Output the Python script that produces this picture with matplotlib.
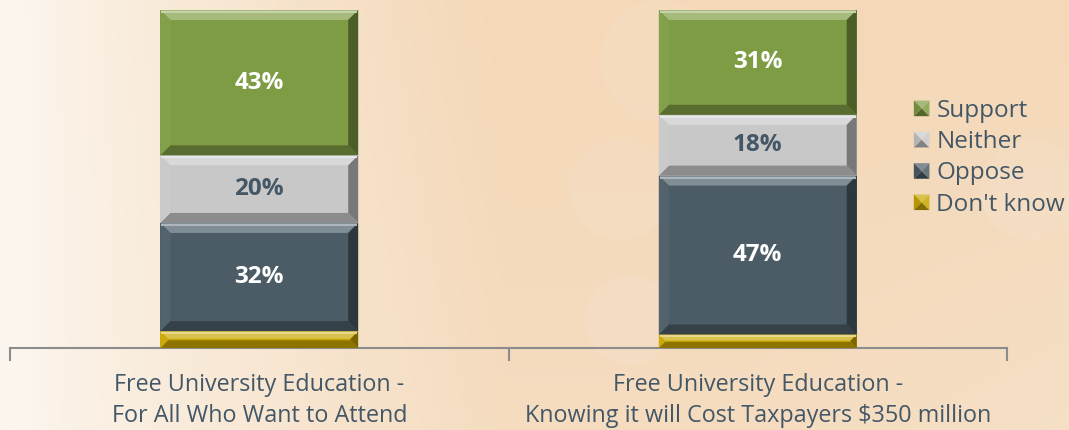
import numpy as np
import matplotlib
matplotlib.use("Agg")
import matplotlib.pyplot as plt
from matplotlib.patches import Polygon, Rectangle, Ellipse
from matplotlib.colors import to_rgb
from matplotlib.legend_handler import HandlerBase

# ---- data ----
categories = ["Free University Education -\nFor All Who Want to Attend",
              "Free University Education -\nKnowing it will Cost Taxpayers $350 million"]
series_names = ["Don't know", "Oppose", "Neither", "Support"]
dont_know = [5, 4]
oppose = [32, 47]
neither = [20, 18]
support = [43, 31]
series_values = [dont_know, oppose, neither, support]
series_colors = ["#C9A600", "#4B5C67", "#C8C8C8", "#7E9C43"]
label_colors = [None, "white", "#435766", "white"]

plt.rcParams['font.family'] = ['Open Sans', 'DejaVu Sans']
W, H = 1069, 430
fig = plt.figure(figsize=(W / 100, H / 100), dpi=100)

# background gradient (pixel coordinates)
bg = fig.add_axes([0, 0, 1, 1], zorder=-10)
bg.set_axis_off()
xx = np.linspace(0, 1, 400)
yy = np.linspace(0, 1, 160)
X, Y = np.meshgrid(xx, yy)
c_light = np.array(to_rgb("#FCF6EE"))
c_peach = np.array(to_rgb("#F4D8B8"))
t = np.clip((X - 0.02) / 0.45, 0, 1) ** 0.8
t = t * (0.85 + 0.15 * Y) - 0.10 * np.clip((X - 0.7) / 0.3, 0, 1) * (1 - Y)
t = np.clip(t, 0, 1)
img = c_light[None, None, :] * (1 - t[..., None]) + c_peach[None, None, :] * t[..., None]
bg.imshow(img, extent=[0, W, 0, H], aspect='auto', origin='lower')
for (cx, cy, r) in [(620, 190, 50), (630, 320, 45), (1030, 190, 50), (660, 60, 60)]:
    bg.add_patch(Ellipse((cx, H - cy), 2 * r, 2 * r, facecolor="white",
                         alpha=0.08, edgecolor="none"))
bg.set_xlim(0, W)
bg.set_ylim(0, H)

left_px, right_px, top_px, bot_px = 10, 1007, 10, 348
ax = fig.add_axes([left_px / W, 1 - bot_px / H, (right_px - left_px) / W, (bot_px - top_px) / H])
ax.patch.set_alpha(0)

x = np.arange(len(categories))
bottom = np.zeros(len(categories))
bar_groups = []
for name, vals, col in zip(series_names, series_values, series_colors):
    bars = ax.bar(x, vals, width=0.397, bottom=bottom, color=col, label=name,
                  edgecolor="none", zorder=2)
    bar_groups.append((bars, vals, bottom.copy(), col))
    bottom += np.array(vals)

ax.set_xlim(-0.5, 1.5)
ax.set_ylim(0, 100)

fig.canvas.draw()

def shade(col, f):
    c = np.array(to_rgb(col))
    if f >= 0:
        return tuple(c + (1 - c) * f)
    return tuple(c * (1 + f))

def bevel(patch, col):
    bb = patch.get_window_extent()
    x0, y0, x1, y1 = bb.x0, bb.y0, bb.x1, bb.y1
    b = min(10, (y1 - y0) / 2.2, (x1 - x0) / 2.2)
    ix0, iy0, ix1, iy1 = x0 + b, y0 + b, x1 - b, y1 - b
    polys = [
        ([(x0, y1), (x1, y1), (ix1, iy1), (ix0, iy1)], shade(col, 0.30)),  # top
        ([(x0, y0), (x1, y0), (ix1, iy0), (ix0, iy0)], shade(col, -0.30)),  # bottom
        ([(x0, y0), (x0, y1), (ix0, iy1), (ix0, iy0)], shade(col, 0.04)),  # left
        ([(x1, y0), (x1, y1), (ix1, iy1), (ix1, iy0)], shade(col, -0.40)),  # right
    ]
    for pts, c in polys:
        fig.add_artist(Polygon(pts, closed=True, transform=None, facecolor=c,
                               edgecolor="none", zorder=3))
    fig.add_artist(Polygon([(x0 + 1, y1 - 3), (x1 - 1, y1 - 3), (x1 - 1, y1 - 1), (x0 + 1, y1 - 1)],
                           closed=True, transform=None, facecolor=shade(col, 0.55),
                           edgecolor="none", zorder=4))

for bars, vals, bots, col in bar_groups:
    for p in bars:
        bevel(p, col)

for (bars, vals, bots, col), lc in zip(bar_groups, label_colors):
    if lc is None:
        continue
    for xi, v, b0 in zip(x, vals, bots):
        ax.text(xi, b0 + v / 2, f"{v}%", ha="center", va="center", color=lc,
                fontsize=17.5, fontweight="bold", zorder=6)

for s in ["top", "right", "left"]:
    ax.spines[s].set_visible(False)
ax.spines["bottom"].set_color("#8C8C8C")
ax.spines["bottom"].set_linewidth(1.5)
ax.set_yticks([])
ax.set_xticks(x)
ax.set_xticklabels(categories, fontsize=16.8, color="#435766", linespacing=1.38)
ax.tick_params(axis="x", which="major", length=0, pad=18)
ax.set_xticks([-0.5, 0.5, 1.5], minor=True)
ax.tick_params(axis="x", which="minor", length=9, width=1.5, color="#8C8C8C")


class BevelHandler(HandlerBase):
    def create_artists(self, legend, orig_handle, xdescent, ydescent, width, height, fontsize, trans):
        c = to_rgb(orig_handle.get_facecolor())
        s = min(width, height) * 0.9
        x0 = -xdescent + (width - s) / 2
        y0 = -ydescent + (height - s) / 2
        cx, cy = x0 + s / 2, y0 + s / 2
        parts = [
            ([(x0, y0 + s), (x0 + s, y0 + s), (cx, cy)], shade(c, 0.3)),
            ([(x0, y0), (x0 + s, y0), (cx, cy)], shade(c, -0.35)),
            ([(x0, y0), (x0, y0 + s), (cx, cy)], shade(c, -0.1)),
            ([(x0 + s, y0), (x0 + s, y0 + s), (cx, cy)], shade(c, 0.15)),
        ]
        return [Polygon(p, facecolor=fc, edgecolor="none", transform=trans) for p, fc in parts]

proxies = [Rectangle((0, 0), 1, 1, facecolor=c) for c in series_colors][::-1]
leg = fig.legend(proxies, series_names[::-1], loc="upper left",
                 bbox_to_anchor=(891 / W, 1 - 77 / H), frameon=False, fontsize=17.5,
                 handlelength=0.72, handleheight=0.72, handletextpad=0.25, labelspacing=0.3,
                 labelcolor="#435766", handler_map={Rectangle: BevelHandler()})

fig.savefig("out.png", dpi=100)
